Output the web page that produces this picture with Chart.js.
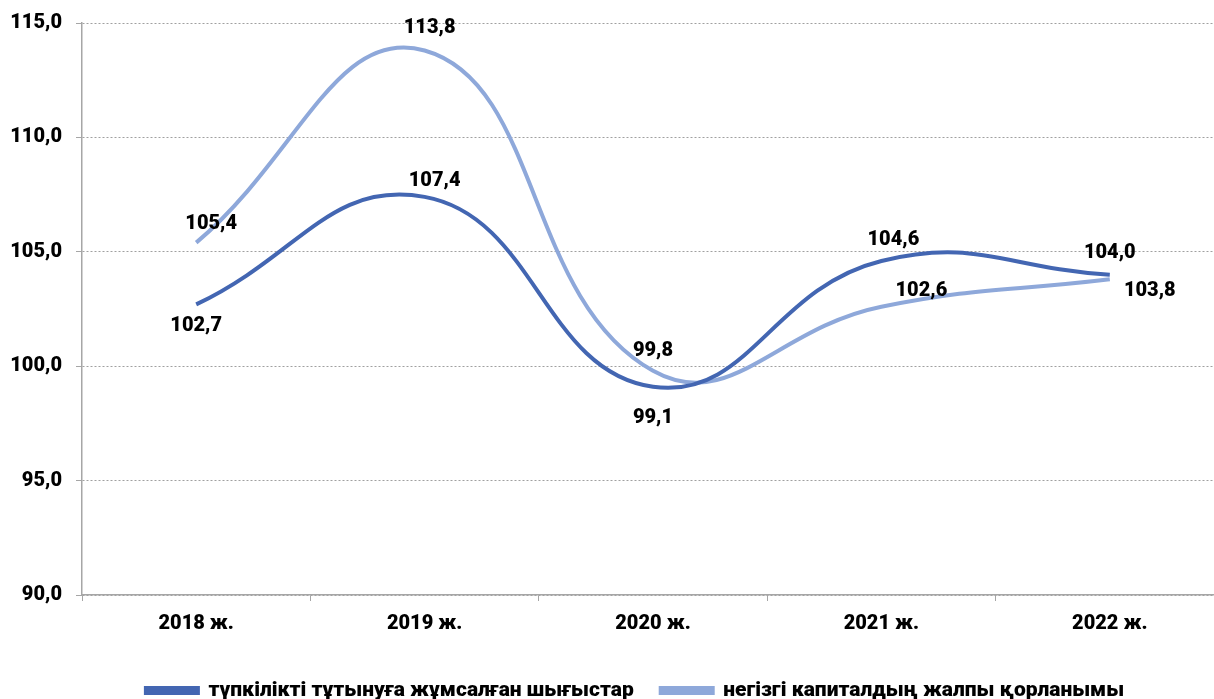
<!DOCTYPE html>
<html>
<head>
<meta charset="utf-8">
<script src="https://cdn.jsdelivr.net/npm/chart.js@4"></script>
<style>
  html, body { margin: 0; padding: 0; background: #fff; overflow: hidden; }
  #wrap { width: 1214px; height: 699px; overflow: hidden; }
</style>
</head>
<body>
<div id="wrap"><canvas id="chart" width="1250" height="699"></canvas></div>
<script>
// data
const years = ['2018 ж.', '2019 ж.', '2020 ж.', '2021 ж.', '2022 ж.'];
const consumption = [102.7, 107.4, 99.1, 104.6, 104.0];
const capital = [105.4, 113.8, 99.8, 102.6, 103.8];
const seriesNames = ['түпкілікті тұтынуға жұмсалған шығыстар', 'негізгі капиталдың жалпы қорланымы'];
const yTicks = [90, 95, 100, 105, 110, 115];

// label offsets (px) for the value labels, per point
const labelShift = [
  [[0, 22], [10, -16], [0, 31], [12, -21], [0, -22]],
  [[15, -19], [5, -22], [0, -20], [40, -16], [40, 12]]
];

const fmt = v => v.toFixed(1).replace('.', ',');

const valueLabels = {
  id: 'valueLabels',
  afterDatasetsDraw(chart) {
    const ctx = chart.ctx;
    ctx.save();
    ctx.font = '900 20px Roboto';
    ctx.fillStyle = '#000';
    ctx.textAlign = 'center';
    ctx.textBaseline = 'middle';
    chart.data.datasets.forEach((ds, i) => {
      chart.getDatasetMeta(i).data.forEach((pt, j) => {
        const [dx, dy] = labelShift[i][j];
        ctx.fillText(fmt(ds.data[j]), pt.x + dx, pt.y + dy);
      });
    });
    ctx.restore();
  }
};

// nudge the legend: centred a bit right and sitting near the bottom edge
const legendNudge = {
  id: 'legendNudge',
  afterLayout(chart) {
    const lg = chart.legend;
    lg.left += 23; lg.right += 23;
    lg.top += 12; lg.bottom += 12;
  }
};

new Chart(document.getElementById('chart'), {
  type: 'line',
  data: {
    labels: years,
    datasets: [
      { label: seriesNames[0], data: consumption, borderColor: '#4366b2', backgroundColor: '#4366b2' },
      { label: seriesNames[1], data: capital, borderColor: '#8ea8da', backgroundColor: '#8ea8da' }
    ]
  },
  options: {
    responsive: false,
    animation: false,
    layout: { padding: { left: 0, right: 26, top: 13, bottom: 0 } },
    elements: {
      line: { borderWidth: 4, tension: 0.45 },
      point: { radius: 0 }
    },
    plugins: {
      legend: {
        position: 'bottom',
        labels: {
          boxWidth: 52,
          boxHeight: 5,
          padding: 27,
          color: '#000',
          font: { family: 'Roboto', weight: 900, size: 21 }
        }
      },
      tooltip: { enabled: false }
    },
    scales: {
      x: {
        offset: true,
        grid: { offset: true, drawOnChartArea: false, drawTicks: true, tickLength: 6, color: '#a6a6a6' },
        border: { color: '#a6a6a6', width: 1.5 },
        ticks: { color: '#000', padding: 11, font: { family: 'Roboto', weight: 900, size: 20 } },
        afterFit(s) { s.height = 46; }
      },
      y: {
        min: 90,
        max: 115,
        afterBuildTicks(s) { s.ticks = yTicks.map(v => ({ value: v })); },
        grid: {
          color: '#a0a0a0',
          lineWidth: 1,
          tickLength: 6,
          tickColor: '#a6a6a6'
        },
        border: { color: '#a6a6a6', width: 1.5, dash: [2, 2] },
        ticks: {
          color: '#000',
          padding: 14,
          font: { family: 'Roboto', weight: 900, size: 20, lineHeight: 0.9 },
          callback: v => fmt(v)
        },
        afterFit(s) { s.width = 82; }
      }
    }
  },
  plugins: [valueLabels, legendNudge]
});
</script>
</body>
</html>
